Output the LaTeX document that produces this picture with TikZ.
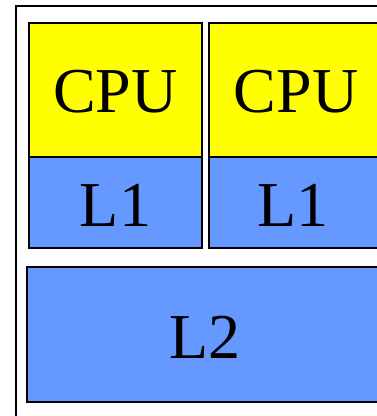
\documentclass[tikz,border=0pt]{standalone}
\usepackage{fontspec}
\setmainfont{Liberation Serif}
\definecolor{cpuyellow}{HTML}{FFFF00}
\definecolor{cacheblue}{HTML}{6699FF}
\begin{document}
\begin{tikzpicture}[x=1pt,y=-1pt,
  box/.style={draw=black,line width=1.6pt,inner sep=0pt,outer sep=0pt},
  lbl/.style={font=\fontsize{64}{64}\selectfont,inner sep=0pt}]
\useasboundingbox (0,0) rectangle (377,416);
\clip (0,0) rectangle (377,416);
\fill[white] (0,0) rectangle (377,416);
% outer frame
\draw[line width=1.8pt] (16,6) rectangle (395,430);
% CPU 1
\draw[box,fill=cpuyellow] (29,23) rectangle (202,157);
\draw[box,fill=cacheblue] (29,157) rectangle (202,248);
% CPU 2
\draw[box,fill=cpuyellow] (209,23) rectangle (383,157);
\draw[box,fill=cacheblue] (209,157) rectangle (383,248);
% L2
\draw[line width=1.6pt,draw=gray!60] (27,267) -- (27,402);
\draw[box,fill=cacheblue] (27,267) rectangle (384,402);
% labels
\node[lbl] (cpu1) at (115.5,92) {CPU};
\node[lbl] (cpu2) at (296,92) {CPU};
\node[lbl] (l1a) at (115.5,205) {L1};
\node[lbl] (l1b) at (293,205) {L1};
\node[lbl] (l2) at (205,337) {L2};
\end{tikzpicture}
\end{document}
